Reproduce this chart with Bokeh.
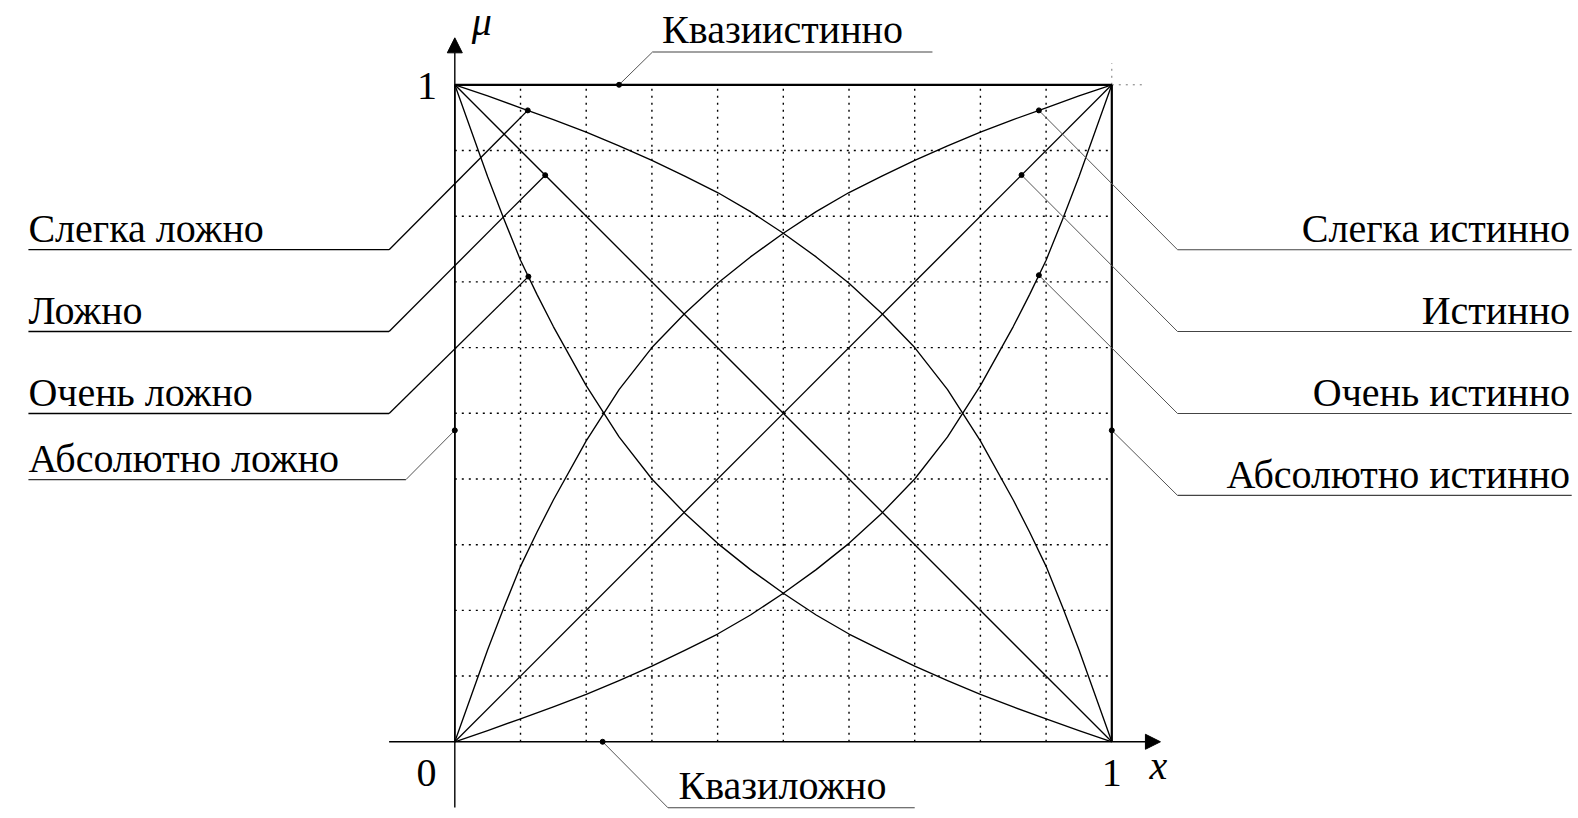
import numpy as np
from bokeh.plotting import figure
from bokeh.models import Range1d, Arrow, NormalHead
from bokeh.core.properties import value
from bokeh.embed import file_html
from bokeh.resources import INLINE

# ---------------- data ----------------
grid_ticks = [0.1, 0.2, 0.3, 0.4, 0.5, 0.6, 0.7, 0.8, 0.9]

true_x = [0.0, 1.0]
true_mu = [0.0, 1.0]
false_x = [0.0, 1.0]
false_mu = [1.0, 0.0]

very_true_x = [0.0, 0.05, 0.1, 0.15, 0.2, 0.25, 0.3, 0.35, 0.4, 0.45, 0.5, 0.55,
               0.6, 0.65, 0.7, 0.75, 0.8, 0.85, 0.875, 0.9, 0.925, 0.95, 0.975, 1.0]
very_true_mu = [0.0, 0.017, 0.035, 0.053, 0.072, 0.093, 0.115, 0.139, 0.164, 0.193, 0.226, 0.262,
                0.302, 0.348, 0.400, 0.464, 0.542, 0.632, 0.681, 0.733, 0.795, 0.860, 0.930, 1.0]

slightly_false_x = [0.0, 0.05, 0.1, 0.15, 0.2, 0.25, 0.3, 0.35, 0.4, 0.45, 0.5, 0.55,
                    0.6, 0.65, 0.7, 0.75, 0.8, 0.85, 0.875, 0.9, 0.925, 0.95, 0.975, 1.0]
slightly_false_mu = [1.0, 0.983, 0.965, 0.947, 0.928, 0.907, 0.885, 0.861, 0.836, 0.807, 0.774, 0.738,
                     0.698, 0.652, 0.600, 0.536, 0.458, 0.368, 0.319, 0.267, 0.205, 0.140, 0.070, 0.0]

very_false_x = [0.0, 0.025, 0.05, 0.075, 0.1, 0.125, 0.15, 0.2, 0.25, 0.3, 0.35, 0.4,
                0.45, 0.5, 0.55, 0.6, 0.65, 0.7, 0.75, 0.8, 0.85, 0.9, 0.95, 1.0]
very_false_mu = [1.0, 0.930, 0.860, 0.795, 0.733, 0.681, 0.632, 0.542, 0.464, 0.400, 0.348, 0.302,
                 0.262, 0.226, 0.193, 0.164, 0.139, 0.115, 0.093, 0.072, 0.053, 0.035, 0.017, 0.0]

slightly_true_x = [0.0, 0.025, 0.05, 0.075, 0.1, 0.125, 0.15, 0.2, 0.25, 0.3, 0.35, 0.4,
                   0.45, 0.5, 0.55, 0.6, 0.65, 0.7, 0.75, 0.8, 0.85, 0.9, 0.95, 1.0]
slightly_true_mu = [0.0, 0.070, 0.140, 0.205, 0.267, 0.319, 0.368, 0.458, 0.536, 0.600, 0.652, 0.698,
                    0.738, 0.774, 0.807, 0.836, 0.861, 0.885, 0.907, 0.928, 0.947, 0.965, 0.983, 1.0]

absolutely_true_x = [1.0, 1.0]
absolutely_true_mu = [0.0, 1.0]
absolutely_false_x = [0.0, 0.0]
absolutely_false_mu = [0.0, 1.0]
quasi_true_x = [0.0, 1.0]
quasi_true_mu = [1.0, 1.0]

left_labels = ["Слегка ложно", "Ложно", "Очень ложно", "Абсолютно ложно"]
right_labels = ["Слегка истинно", "Истинно", "Очень истинно", "Абсолютно истинно"]
top_label = "Квазиистинно"
bottom_label = "Квазиложно"

# where each label points (x on its curve)
left_dot_x = [0.111, 0.1376, 0.112, 0.0]
right_dot_x = [0.889, 0.8626, 0.889, 1.0]
absolute_dot_mu = 0.474
quasi_true_dot_x = 0.25
quasi_false_dot_x = 0.225

# ---------------- layout ----------------
FONT = value("Liberation Serif")
FS = "40px"
DOT = "2 5"
BASE = -15          # correction so that the text baseline sits on its y
W, H = 1576, 814
p = figure(width=W, height=H, output_backend="svg", toolbar_location=None,
           x_range=Range1d(-0.6915, 1.7073), y_range=Range1d(-0.1107, 1.1283),
           min_border=0, min_border_left=0, min_border_right=0,
           min_border_top=0, min_border_bottom=0)
p.axis.visible = False
p.grid.visible = False
p.outline_line_color = None
p.background_fill_color = "white"
p.border_fill_color = "white"

# dotted grid
for t in grid_ticks:
    p.line([t, t], [0.0, 1.0], line_color="#000000", line_width=1.4, line_dash=DOT)
    p.line([0.0, 1.0], [t, t], line_color="#000000", line_width=1.4, line_dash=DOT)
# corner extension
p.line([1.0, 1.05], [1.0, 1.0], line_color="#777777", line_width=1.0, line_dash=DOT)
p.line([1.0, 1.0], [1.0, 1.033], line_color="#777777", line_width=1.0, line_dash=DOT)

# axes
p.add_layout(Arrow(end=NormalHead(size=15, fill_color="black", line_color="black"),
                   x_start=-0.1, y_start=0.0, x_end=1.074, y_end=0.0,
                   line_width=1.4, line_color="black"))
p.add_layout(Arrow(end=NormalHead(size=15, fill_color="black", line_color="black"),
                   x_start=0.0, y_start=-0.1, x_end=0.0, y_end=1.0715,
                   line_width=1.4, line_color="black"))

# curves
curve_kw = dict(line_color="black", line_width=1.35, line_join="round")
p.line(true_x, true_mu, **curve_kw)
p.line(false_x, false_mu, **curve_kw)
p.line(very_true_x, very_true_mu, **curve_kw)
p.line(slightly_false_x, slightly_false_mu, **curve_kw)
p.line(very_false_x, very_false_mu, **curve_kw)
p.line(slightly_true_x, slightly_true_mu, **curve_kw)
p.line(absolutely_false_x, absolutely_false_mu, line_color="black", line_width=1.6)
p.line(absolutely_true_x, absolutely_true_mu, line_color="black", line_width=2.2)
p.line(quasi_true_x, quasi_true_mu, line_color="black", line_width=2.2)

# label anchor points on curves
left_dot_mu = [float(np.interp(left_dot_x[0], slightly_false_x, slightly_false_mu)),
               float(np.interp(left_dot_x[1], false_x, false_mu)),
               float(np.interp(left_dot_x[2], very_false_x, very_false_mu)),
               absolute_dot_mu]
right_dot_mu = [float(np.interp(right_dot_x[0], slightly_true_x, slightly_true_mu)),
                float(np.interp(right_dot_x[1], true_x, true_mu)),
                float(np.interp(right_dot_x[2], very_true_x, very_true_mu)),
                absolute_dot_mu]

left_row_y = [0.749, 0.6245, 0.4997, 0.399]
left_row_x0 = -0.649
left_row_x1 = [-0.1, -0.1, -0.1, -0.0744]
right_row_y = [0.749, 0.6245, 0.4997, 0.375]
right_row_x0 = 1.1
right_row_x1 = 1.70

dark = dict(line_color="black", line_width=1.3)
gray = dict(line_color="#555555", line_width=1.0)
for i in range(4):
    kw = dark if i < 3 else gray
    p.line([left_row_x0, left_row_x1[i]], [left_row_y[i], left_row_y[i]],
           line_color="black" if i < 3 else "#333333", line_width=1.3 if i < 3 else 1.1)
    p.line([left_row_x1[i], left_dot_x[i]], [left_row_y[i], left_dot_mu[i]], **kw)
    p.line([right_row_x0, right_row_x1], [right_row_y[i], right_row_y[i]],
           line_color="#444444", line_width=1.1)
    p.line([right_row_x0, right_dot_x[i]], [right_row_y[i], right_dot_mu[i]], **gray)

# top / bottom leaders
top_row_y, top_row_x = 1.05, [0.301, 0.727]
bot_row_y, bot_row_x = -0.1005, [0.3245, 0.70]
p.line(top_row_x, [top_row_y, top_row_y], line_color="#444444", line_width=1.1)
p.line([quasi_true_dot_x, top_row_x[0]], [1.0, top_row_y], **gray)
p.line(bot_row_x, [bot_row_y, bot_row_y], line_color="#444444", line_width=1.1)
p.line([quasi_false_dot_x, bot_row_x[0]], [0.0, bot_row_y], **gray)

# dots
p.scatter(left_dot_x + right_dot_x + [quasi_true_dot_x, quasi_false_dot_x],
          left_dot_mu + right_dot_mu + [1.0, 0.0], size=5, color="black")

# texts
txt = dict(text_font=FONT, text_font_size=FS, text_color="black")
p.text(x=[left_row_x0] * 4, y=left_row_y, text=left_labels, text_align="left",
       text_baseline="alphabetic", y_offset=BASE - 6, **txt)
p.text(x=[1.6975] * 4, y=right_row_y, text=right_labels, text_align="right",
       text_baseline="alphabetic", y_offset=BASE - 6, **txt)
p.text(x=[0.3155], y=[top_row_y], text=[top_label], text_align="left",
       text_baseline="alphabetic", y_offset=BASE - 7, **txt)
p.text(x=[0.3405], y=[bot_row_y], text=[bottom_label], text_align="left",
       text_baseline="alphabetic", y_offset=BASE - 7, **txt)

# tick labels
p.text(x=[-0.0425, -0.043, 1.0], y=[0.976, -0.07, -0.07], text=["1", "0", "1"],
       text_align="center", text_baseline="alphabetic", y_offset=BASE, **txt)
# axis names
p.text(x=[1.071], y=[-0.059], text=["x"], text_align="center", text_baseline="alphabetic",
       text_font_style="italic", y_offset=BASE, **txt)
p.text(x=[0.041], y=[1.0735], text=["μ"], text_align="center", text_baseline="alphabetic",
       text_font_style="italic", y_offset=BASE, **txt)

open("out.html", "w").write(file_html(p, INLINE))
